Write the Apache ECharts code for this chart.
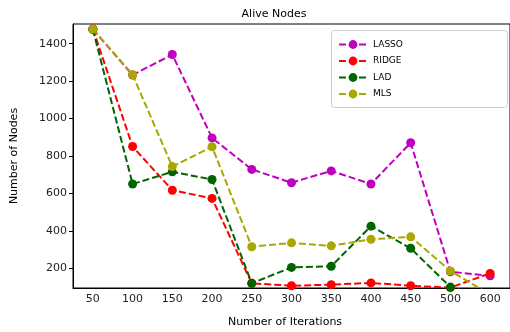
<!DOCTYPE html>
<html>
<head>
<meta charset="utf-8">
<script src="https://cdn.jsdelivr.net/npm/echarts@6/dist/echarts.min.js"></script>
<style>
  html, body { margin: 0; padding: 0; background: #fff; }
  #chart { width: 510px; height: 332px; }
</style>
</head>
<body>
<div id="chart"></div>
<script>
const iterations = ['50', '100', '150', '200', '250', '300', '350', '400', '450', '500', '600'];
const lasso = [1477, 1233, 1342, 897, 729, 658, 721, 651, 871, 183, 161];
const ridge = [1479, 851, 618, 574, 121, 108, 114, 123, 108, 98, 174];
const lad = [1476, 651, 716, 675, 121, 206, 212, 426, 308, 101, 40];
const mls = [1478, 1234, 744, 850, 316, 337, 321, 356, 369, 187, 60];
const yTicks = [200, 400, 600, 800, 1000, 1200, 1400];

const chart = echarts.init(document.getElementById('chart'));
const font = 'DejaVu Sans';

function makeSeries(name, data, color) {
    return {
        name: name,
        type: 'line',
        data: data,
        symbol: 'circle',
        symbolSize: 9,
        clip: true,
        lineStyle: { color: color, width: 2, type: [7, 3] },
        itemStyle: { color: color },
        emphasis: { disabled: true }
    };
}

chart.setOption({
    animation: false,
    textStyle: { fontFamily: font },
    grid: { left: 73, right: -3, top: 24, bottom: 44, show: true, borderColor: '#000', borderWidth: 1 },
    legend: {
        orient: 'vertical',
        left: 333,
        top: 35,
        itemWidth: 28,
        itemHeight: 11,
        itemGap: 7.5,
        textStyle: { fontFamily: font, fontSize: 9, color: '#000', padding: [0, 0, 0, 1] },
        data: ['LASSO', 'RIDGE', 'LAD', 'MLS']
    },
    xAxis: {
        type: 'category',
        data: iterations,
        boundaryGap: true,
        axisLine: { lineStyle: { color: '#000', width: 1 } },
        axisTick: { alignWithLabel: true, length: 4, lineStyle: { color: '#000' } },
        axisLabel: { fontFamily: font, fontSize: 11, color: '#222', margin: 6 },
        splitLine: { show: false }
    },
    yAxis: {
        type: 'value',
        min: 96,
        max: 1505,
        axisLine: { show: true, lineStyle: { color: '#000', width: 1 } },
        axisTick: { show: true, length: 4, customValues: yTicks, lineStyle: { color: '#000' } },
        axisLabel: { fontFamily: font, fontSize: 11, color: '#222', margin: 6, customValues: yTicks,
                     formatter: v => String(v) },
        splitLine: { show: false }
    },
    graphic: [
        { type: 'rect', left: 331, top: 30, shape: { width: 176, height: 77, r: 3 },
          style: { fill: '#fff', stroke: '#ccc', lineWidth: 1 }, z: 0 },
        { type: 'text', x: 274, y: 14,
          style: { text: 'Alive Nodes', font: '11px "DejaVu Sans"', fill: '#000', align: 'center', verticalAlign: 'middle' } },
        { type: 'text', x: 285, y: 322,
          style: { text: 'Number of Iterations', font: '11px "DejaVu Sans"', fill: '#000', align: 'center', verticalAlign: 'middle' } },
        { type: 'text', x: 14, y: 156, rotation: Math.PI / 2,
          style: { text: 'Number of Nodes', font: '11px "DejaVu Sans"', fill: '#000', align: 'center', verticalAlign: 'middle' } }
    ],
    series: [
        makeSeries('LASSO', lasso, '#bf00bf'),
        makeSeries('RIDGE', ridge, '#ff0000'),
        makeSeries('LAD', lad, '#006400'),
        makeSeries('MLS', mls, '#a8a800')
    ]
});
</script>
</body>
</html>
